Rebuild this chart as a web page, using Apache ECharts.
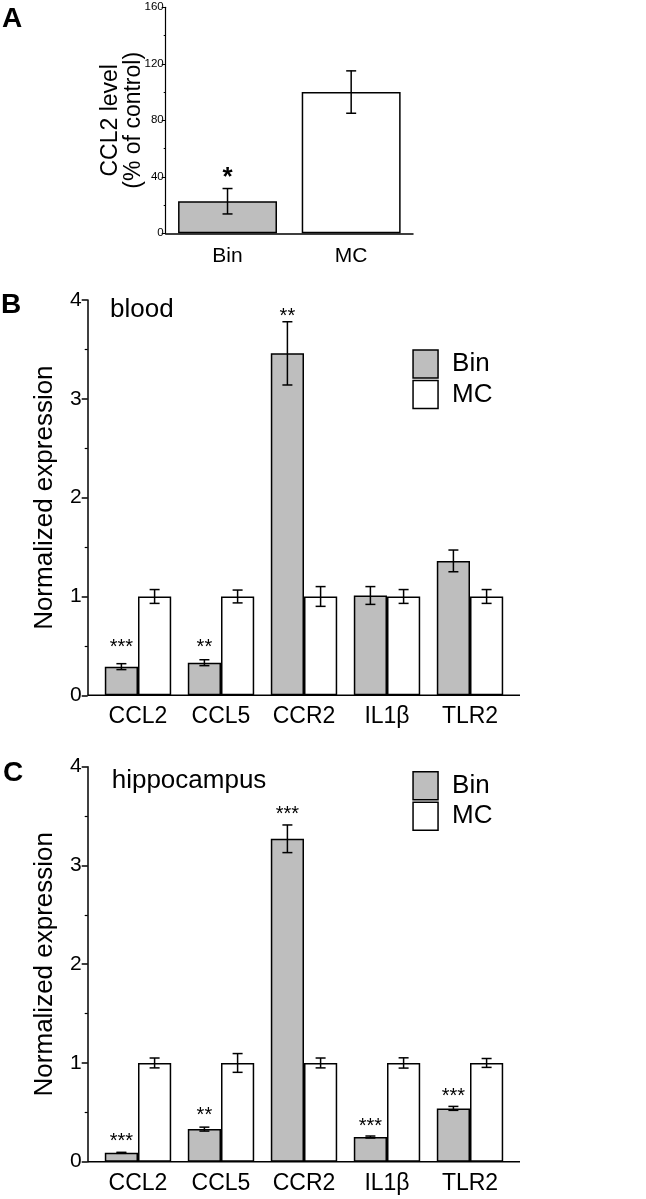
<!DOCTYPE html>
<html><head><meta charset="utf-8">
<script src="https://cdn.jsdelivr.net/npm/echarts@6/dist/echarts.min.js"></script>
<style>html,body{margin:0;padding:0;background:#fff}#c{width:646px;height:1199px}</style>
</head><body><div id="c"></div>
<script>
const NARROW = "'Liberation Sans Narrow','Arial Narrow','Liberation Sans',Arial,sans-serif";
const REG = "'Liberation Sans',Arial,sans-serif";
const GRAY = '#bebebe';

// Panel A
const catsA = ['Bin', 'MC'];
const valsA = [22.7, 100];
const errA = [9, 15];
const starsA = ['*', ''];
const starYA = [43.6, 0];
const ticksA = [0, 40, 80, 120, 160];

// Panels B and C
const genes = ['CCL2', 'CCL5', 'CCR2', 'IL1β', 'TLR2'];
const binB = [0.29, 0.33, 3.46, 1.01, 1.36];
const binErrB = [0.03, 0.03, 0.32, 0.09, 0.11];
const mcB = [1, 1, 1, 1, 1];
const mcErrB = [0.07, 0.065, 0.10, 0.07, 0.07];
const starsB = ['***', '**', '**', '', ''];
const starYB = [0.53, 0.53, 3.88, 0, 0];

const binC = [0.09, 0.33, 3.27, 0.25, 0.54];
const binErrC = [0.005, 0.02, 0.14, 0.01, 0.02];
const mcC = [1, 1, 1, 1, 1];
const mcErrC = [0.05, 0.095, 0.05, 0.052, 0.045];
const starsC = ['***', '**', '***', '***', '***'];
const starYC = [0.25, 0.51, 3.56, 0.40, 0.71];

const G = [
  {left: 165.7, top: 7.3, width: 247.3, height: 226},
  {left: 96.5, top: 300, width: 415, height: 395.3},
  {left: 96.5, top: 766.7, width: 415, height: 395}
];

const chart = echarts.init(document.getElementById('c'), null, {renderer: 'canvas'});

function errRender(side) {
  return function (params, api) {
    const x = api.value(0), lo = api.value(1), hi = api.value(2);
    const a = api.coord([x, lo]), b = api.coord([x, hi]);
    const band = api.size([1, 0])[0];
    const cx = a[0] + side * band * 0.2;
    const hw = 5;
    const st = {stroke: '#000', lineWidth: 1.5};
    return {type: 'group', children: [
      {type: 'line', shape: {x1: cx, y1: a[1], x2: cx, y2: b[1]}, style: st},
      {type: 'line', shape: {x1: cx - hw, y1: a[1], x2: cx + hw, y2: a[1]}, style: st},
      {type: 'line', shape: {x1: cx - hw, y1: b[1], x2: cx + hw, y2: b[1]}, style: st}
    ]};
  };
}
function starRender(stars, side, fs, bold) {
  return function (params, api) {
    const s = stars[params.dataIndex];
    if (!s) return null;
    const p = api.coord([api.value(0), api.value(1)]);
    const band = api.size([1, 0])[0];
    return {type: 'text', x: p[0] + side * band * 0.2, y: p[1] + fs * 0.22,
      style: {text: s, fontSize: fs, fontFamily: NARROW, fontWeight: bold ? 'bold' : 'normal',
        fill: '#000', align: 'center', verticalAlign: 'middle'}};
  };
}
function errData(v, e) { return v.map((x, i) => [i, x - e[i], x + e[i]]); }
function starData(y) { return y.map((x, i) => [i, x]); }

const axisLineStyle = {color: '#000', width: 1.5};
function yAxisBC(gi) {
  return {gridIndex: gi, type: 'value', min: 0, max: 4, interval: 1, offset: 8.8,
    axisLine: {show: true, lineStyle: axisLineStyle},
    axisTick: {show: true, length: 6, lineStyle: axisLineStyle},
    minorTick: {show: true, splitNumber: 2, length: 3, lineStyle: {color: '#000', width: 1.2}},
    splitLine: {show: false},
    axisLabel: {fontSize: 21, fontFamily: NARROW, color: '#000', margin: 6},
    name: 'Normalized expression', nameLocation: 'middle', nameGap: 30, nameMoveOverlap: false,
    nameTextStyle: {fontSize: 26, fontFamily: REG, color: '#000'}};
}
function xAxisBC(gi) {
  return {gridIndex: gi, type: 'category', data: genes,
    axisLine: {show: false}, axisTick: {show: false},
    axisLabel: {interval: 0, fontSize: 23, fontFamily: NARROW, color: '#000', margin: 10}};
}
function legendAt(top) {
  return {orient: 'vertical', left: 412.3, top: top, padding: 0, data: ['Bin', 'MC'], icon: 'rect',
    itemWidth: 25, itemHeight: 28, itemGap: 1, selectedMode: false,
    itemStyle: {borderColor: '#000', borderWidth: 1.5},
    textStyle: {fontSize: 26, fontFamily: NARROW, color: '#000', padding: [0, 0, 0, 9], lineHeight: 28}};
}
function barPair(xi, bin, mc) {
  const common = {type: 'bar', xAxisIndex: xi, yAxisIndex: xi, barGap: '0%', barCategoryGap: '20%'};
  return [
    Object.assign({name: 'Bin', data: bin, itemStyle: {color: GRAY, borderColor: '#000', borderWidth: 1.5}}, common),
    Object.assign({name: 'MC', data: mc, itemStyle: {color: '#fff', borderColor: '#000', borderWidth: 1.5}}, common)
  ];
}
function errSeries(xi, data, side) {
  return {type: 'custom', xAxisIndex: xi, yAxisIndex: xi, z: 5, renderItem: errRender(side), data: data, silent: true};
}
function starSeries(xi, stars, y, side, fs, bold) {
  return {type: 'custom', xAxisIndex: xi, yAxisIndex: xi, z: 5, renderItem: starRender(stars, side, fs, bold), data: starData(y), silent: true};
}

const letterStyle = (t) => ({fontSize: 28, fontWeight: 'bold', fontFamily: NARROW, fill: '#000', text: t});

const option = {
  animation: false,
  backgroundColor: '#fff',
  grid: G.map(g => Object.assign({containLabel: false}, g)),
  xAxis: [
    {gridIndex: 0, type: 'category', data: catsA,
      axisLine: {show: true, lineStyle: axisLineStyle}, axisTick: {show: false},
      axisLabel: {interval: 0, fontSize: 21, fontFamily: NARROW, color: '#000', margin: 12}},
    xAxisBC(1), xAxisBC(2)
  ],
  yAxis: [
    {gridIndex: 0, type: 'value', min: ticksA[0], max: ticksA[ticksA.length - 1], interval: ticksA[1] - ticksA[0],
      axisLine: {show: true, lineStyle: {color: '#000', width: 1.2}},
      axisTick: {show: true, length: 4, lineStyle: {color: '#000', width: 1}},
      minorTick: {show: true, splitNumber: 2, length: 2, lineStyle: {color: '#000', width: 1}},
      splitLine: {show: false},
      axisLabel: {fontSize: 11.5, fontFamily: NARROW, color: '#000', margin: 2},
      name: 'CCL2 level\n(% of control)', nameLocation: 'middle', nameGap: 21, nameMoveOverlap: false,
      nameTextStyle: {fontSize: 23, fontFamily: REG, color: '#000', lineHeight: 23}},
    yAxisBC(1), yAxisBC(2)
  ],
  legend: [legendAt(349.3), legendAt(771)],
  graphic: [
    {type: 'text', left: 2, top: 5, style: letterStyle('A')},
    {type: 'text', left: 1, top: 291, style: letterStyle('B')},
    {type: 'text', left: 3, top: 759, style: letterStyle('C')},
    {type: 'text', left: 110, top: 297, style: {text: 'blood', fontSize: 26, fontFamily: NARROW, fill: '#000'}},
    {type: 'text', left: 111.7, top: 768, style: {text: 'hippocampus', fontSize: 26, fontFamily: NARROW, fill: '#000'}},
    {type: 'line', shape: {x1: 87.7, y1: 695.3, x2: 520, y2: 695.3}, style: {stroke: '#000', lineWidth: 1.5}},
    {type: 'line', shape: {x1: 87.7, y1: 1161.7, x2: 520, y2: 1161.7}, style: {stroke: '#000', lineWidth: 1.5}}
  ],
  series: [
    {type: 'bar', name: 'CCL2 level', xAxisIndex: 0, yAxisIndex: 0, barCategoryGap: '20%',
      data: valsA.map((v, i) => ({value: v, itemStyle: {color: i === 0 ? GRAY : '#fff'}})),
      itemStyle: {borderColor: '#000', borderWidth: 1.5}},
    errSeries(0, errData(valsA, errA), 0),
    starSeries(0, starsA, starYA, 0, 26, true),
    ...barPair(1, binB, mcB),
    errSeries(1, errData(binB, binErrB), -1),
    errSeries(1, errData(mcB, mcErrB), 1),
    starSeries(1, starsB, starYB, -1, 20, false),
    ...barPair(2, binC, mcC),
    errSeries(2, errData(binC, binErrC), -1),
    errSeries(2, errData(mcC, mcErrC), 1),
    starSeries(2, starsC, starYC, -1, 20, false)
  ]
};
chart.setOption(option);
</script>
</body></html>
